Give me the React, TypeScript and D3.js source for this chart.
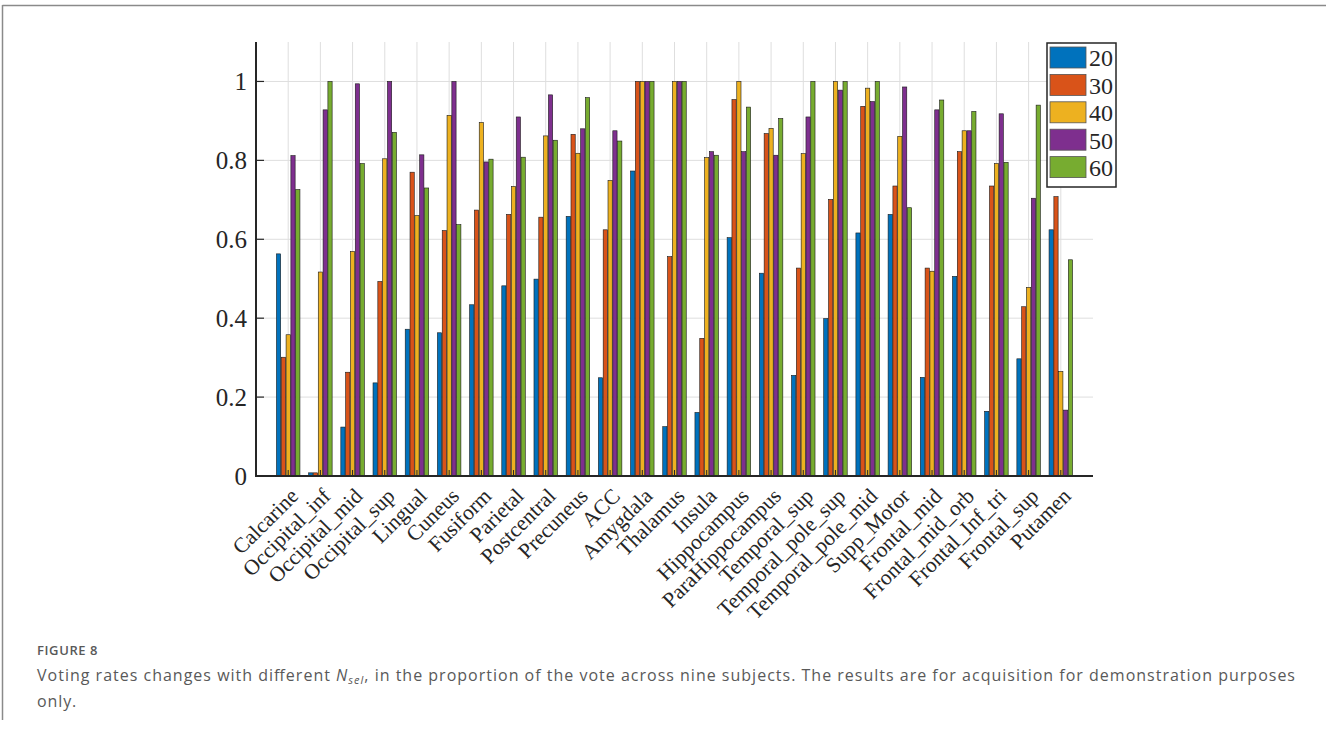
import React from "react";
import * as d3 from "d3";

const categories = [
  "Calcarine", "Occipital_inf", "Occipital_mid", "Occipital_sup", "Lingual", "Cuneus",
  "Fusiform", "Parietal", "Postcentral", "Precuneus", "ACC", "Amygdala", "Thalamus",
  "Insula", "Hippocampus", "ParaHippocampus", "Temporal_sup", "Temporal_pole_sup",
  "Temporal_pole_mid", "Supp_Motor", "Frontal_mid", "Frontal_mid_orb", "Frontal_Inf_tri",
  "Frontal_sup", "Putamen",
];

const seriesNames = ["20", "30", "40", "50", "60"];

const s20 = [0.563, 0.008, 0.124, 0.236, 0.372, 0.363, 0.434, 0.482, 0.499, 0.658, 0.249, 0.773, 0.125, 0.161, 0.604, 0.514, 0.255, 0.399, 0.616, 0.663, 0.250, 0.506, 0.164, 0.297, 0.624];
const s30 = [0.301, 0.008, 0.263, 0.493, 0.770, 0.622, 0.674, 0.663, 0.656, 0.866, 0.624, 1, 0.556, 0.349, 0.954, 0.868, 0.527, 0.701, 0.937, 0.735, 0.527, 0.822, 0.735, 0.429, 0.708];
const s40 = [0.358, 0.517, 0.569, 0.804, 0.660, 0.914, 0.896, 0.734, 0.862, 0.818, 0.749, 1, 1, 0.807, 1, 0.881, 0.817, 1, 0.983, 0.861, 0.519, 0.875, 0.792, 0.478, 0.265];
const s50 = [0.812, 0.928, 0.994, 1, 0.814, 1, 0.796, 0.910, 0.966, 0.880, 0.875, 1, 1, 0.822, 0.822, 0.813, 0.910, 0.978, 0.949, 0.986, 0.928, 0.875, 0.918, 0.704, 0.167];
const s60 = [0.726, 1, 0.792, 0.871, 0.730, 0.637, 0.803, 0.808, 0.851, 0.959, 0.849, 1, 1, 0.813, 0.935, 0.906, 1, 1, 1, 0.680, 0.953, 0.924, 0.795, 0.940, 0.548];

const yTicks = [0, 0.2, 0.4, 0.6, 0.8, 1];
const yTickLabels = ["0", "0.2", "0.4", "0.6", "0.8", "1"];

const colors = ["#0072BD", "#D95319", "#EDB120", "#7E2F8E", "#77AC30"];

const allSeries = [s20, s30, s40, s50, s60];

export default function App() {
  const W = 1326;
  const H = 731;
  const left = 256;
  const right = 1093;
  const top = 42;
  const bottom = 476;

  const x = d3.scaleBand<string>().domain(categories).range([left, right]).paddingInner(0).paddingOuter(0.5);
  const y = d3.scaleLinear().domain([0, 1.1]).range([bottom, top]);
  const groupW = 23.5;
  const xs = d3.scaleBand<string>().domain(seriesNames).range([-groupW / 2, groupW / 2]).paddingInner(0.12);

  const center = (c: string) => (x(c) as number) + x.bandwidth() / 2;
  const serif = "'Liberation Serif', 'Times New Roman', serif";
  const sans = "'Open Sans', 'Noto Sans', sans-serif";

  const legX = 1047, legY = 43, legW = 69, legH = 144, rowH = 27.4;

  return (
    <svg width={W} height={H} style={{ position: "absolute", left: 0, top: 0, background: "#fff" }}>
      {/* figure frame */}
      <line x1={2.5} x2={W} y1={5.5} y2={5.5} stroke="#8a8a8a" strokeWidth={1.5} />
      <line x1={2.5} x2={2.5} y1={5} y2={720} stroke="#8a8a8a" strokeWidth={1.5} />

      {/* grid */}
      <g stroke="#dedede" strokeWidth={1}>
        {yTicks.filter((t) => t > 0).map((t) => (
          <line key={"h" + t} x1={left} x2={right} y1={y(t)} y2={y(t)} />
        ))}
        {categories.map((c) => (
          <line key={"v" + c} x1={center(c)} x2={center(c)} y1={top} y2={bottom} />
        ))}
      </g>

      {/* bars */}
      {allSeries.map((vals, si) => (
        <g key={si} fill={colors[si]} stroke="#1a1a1a" strokeWidth={0.6}>
          {categories.map((c, ci) => (
            <rect
              key={c}
              x={center(c) + (xs(seriesNames[si]) as number)}
              width={xs.bandwidth()}
              y={y(vals[ci])}
              height={y(0) - y(vals[ci])}
            />
          ))}
        </g>
      ))}

      {/* axes */}
      <line x1={left} x2={left} y1={top} y2={bottom + 1} stroke="#262626" strokeWidth={2} />
      <line x1={left - 1} x2={right} y1={bottom} y2={bottom} stroke="#262626" strokeWidth={2} />
      {yTicks.map((t, i) => (
        <g key={"yt" + t}>
          <line x1={left} x2={left + 8} y1={y(t)} y2={y(t)} stroke="#262626" strokeWidth={1.2} />
          <text x={247} y={y(t)} dy="0.35em" textAnchor="end" fontFamily={serif} fontSize={25} fill="#262626">
            {yTickLabels[i]}
          </text>
        </g>
      ))}
      {categories.map((c) => (
        <g key={"xt" + c}>
          <line x1={center(c)} x2={center(c)} y1={bottom} y2={bottom - 6} stroke="#262626" strokeWidth={1} />
          <text
            transform={`translate(${center(c) + 6},${bottom + 16}) rotate(-45)`}
            textAnchor="end"
            dy="0.35em"
            fontFamily={serif}
            fontSize={21.5}
            fill="#262626"
          >
            {c}
          </text>
        </g>
      ))}

      {/* legend */}
      <rect x={legX} y={legY} width={legW} height={legH} fill="#fff" stroke="#262626" strokeWidth={1.5} />
      {seriesNames.map((s, i) => (
        <g key={"lg" + s}>
          <rect x={legX + 3} y={legY + 4 + i * rowH} width={36} height={21} fill={colors[i]} stroke="#555" strokeWidth={0.8} />
          <text x={legX + 42} y={legY + 15 + i * rowH} dy="0.35em" fontFamily={serif} fontSize={24} fill="#262626">
            {s}
          </text>
        </g>
      ))}

      {/* caption */}
      <text x={37} y={655} fontFamily={sans} fontWeight={600} fontSize={13} letterSpacing={0.6} fill="#595959">
        FIGURE 8
      </text>
      <text x={37} y={681} fontFamily={sans} fontSize={16} fill="#595959" textLength={1258} lengthAdjust="spacing">
        {"Voting rates changes with different "}
        <tspan fontStyle="italic">N</tspan>
        <tspan fontStyle="italic" fontSize={11} dy={3}>sel</tspan>
        <tspan dy={-3}>{", in the proportion of the vote across nine subjects. The results are for acquisition for demonstration purposes"}</tspan>
      </text>
      <text x={37} y={707} fontFamily={sans} fontSize={16} letterSpacing={0.9} fill="#595959">
        only.
      </text>
    </svg>
  );
}
